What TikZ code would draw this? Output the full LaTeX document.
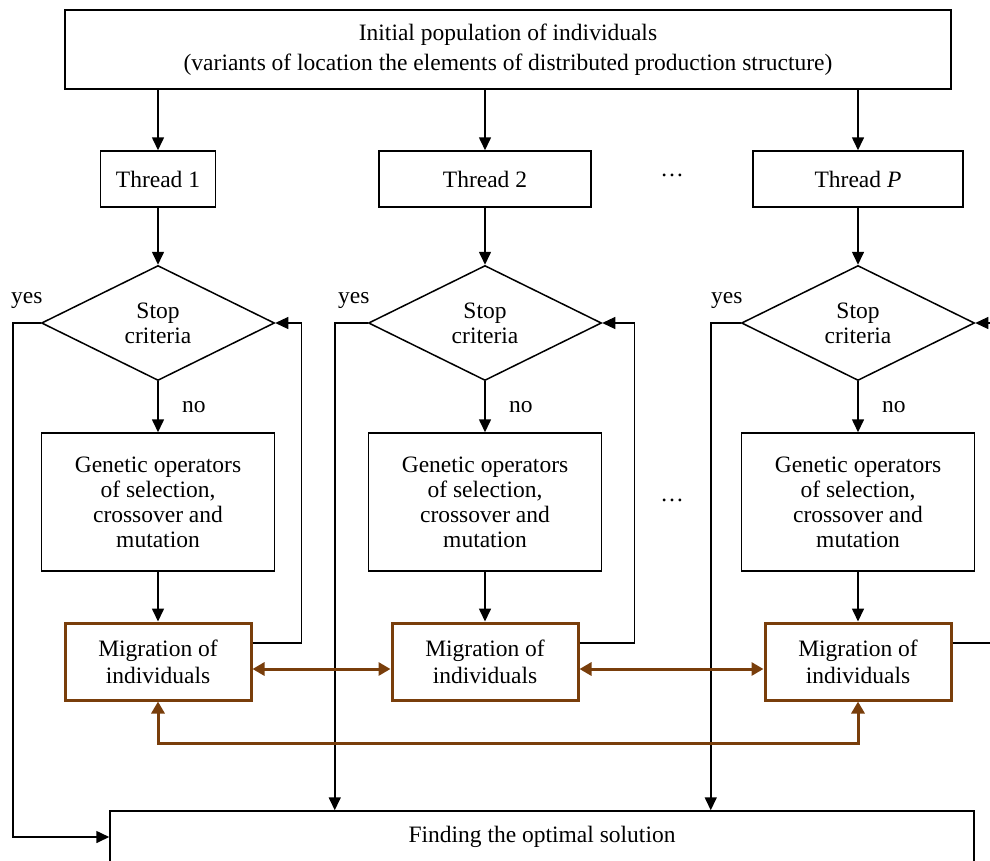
\documentclass[tikz,border=0pt]{standalone}
\usepackage{fontspec}
\setmainfont{Liberation Serif}
\usetikzlibrary{shapes.geometric}
\usetikzlibrary{arrows.meta}
\definecolor{migbrown}{RGB}{121,62,11}
\tikzset{
    % boxes of the scheme
    box/.style={draw,line width=1.5pt,align=center,inner sep=0pt,font=\fontsize{23.5}{25}\selectfont},
    stopbox/.style={box,diamond,aspect=2,minimum width=233pt,minimum height=115pt},
    migbox/.style={box,draw=migbrown,line width=3pt,minimum width=186pt,minimum height=77pt,font=\fontsize{23.5}{27}\selectfont},
    % connectors
    arr/.style={line width=1.6pt,-{Triangle[length=13pt,width=12pt]}},
    back/.style={line width=1.1pt,-{Triangle[length=13pt,width=12pt]}},
    brarr/.style={migbrown,line width=3pt,{Triangle[length=12pt,width=13pt]}-{Triangle[length=12pt,width=13pt]}},
}

\begin{document}
\begin{tikzpicture}[x=1pt,y=-1pt,font=\fontsize{23.5}{25}\selectfont]
    \useasboundingbox (0,0) rectangle (990,860);
    \clip (0,0) rectangle (990,860);
    \node[box,minimum width=886pt,minimum height=79pt,font=\fontsize{23.5}{30}\selectfont] (init) at (508,49.5)
        {Initial population of individuals\\(variants of location the elements of distributed production structure)};
    \node[box,minimum width=115pt,minimum height=56pt] (t1) at (158,179) {Thread 1};
    \node[box,minimum width=212pt,minimum height=56pt] (t2) at (485,179) {Thread 2};
    \node[box,minimum width=210pt,minimum height=56pt] (t3) at (858,179) {Thread \textit{P}};
    \node (dots1) at (672,175) {\ldots};
    \node (dots2) at (672,500) {\ldots};
    \foreach \i/\x in {1/158,2/485,3/858} {
        \node[stopbox] (s\i) at (\x,323) {Stop\\criteria};
        \node[box,minimum width=233pt,minimum height=138pt] (g\i) at (\x,502)
            {Genetic operators\\of  selection,\\crossover and\\mutation};
        \node[migbox] (m\i) at (\x,661.5) {Migration of\\individuals};
        \draw[arr] (init.south -| t\i.north) -- (t\i.north);
        \draw[arr] (t\i.south) -- (s\i.north);
        \draw[arr] (s\i.south) -- node[right=20pt] {no} (g\i.north);
        \draw[arr] (g\i.south) -- (m\i.north);
        \node (yes\i) at ([shift={(-14,-23)}]s\i.west) {yes};
    }
    \node[box,minimum width=864pt,minimum height=52pt] (fin) at (542,837) {Finding the optimal solution};
    % way out of each thread
    \draw[arr] (s1.west) -- ++(-28,0) |- (fin.west);
    \draw[arr] (s2.west) -| ([xshift=-33pt]s2.west |- fin.north);
    \draw[arr] (s3.west) -| ([xshift=-30pt]s3.west |- fin.north);
    % back to the stop test
    \draw[back] ([yshift=18.5pt]m1.east) -- ++(49,0) |- (s1.east);
    \draw[back] ([yshift=18.5pt]m2.east) -- ++(55,0) |- (s2.east);
    \draw[back] ([yshift=18.5pt]m3.east) -- ++(60,0) |- (s3.east);
    % migration between threads
    \draw[brarr] ([yshift=-7.5pt]m1.east) -- ([yshift=-7.5pt]m2.west);
    \draw[brarr] ([yshift=-7.5pt]m2.east) -- ([yshift=-7.5pt]m3.west);
    \draw[brarr] (m1.south) -- ++(0,42) -| (m3.south);
\end{tikzpicture}
\end{document}
